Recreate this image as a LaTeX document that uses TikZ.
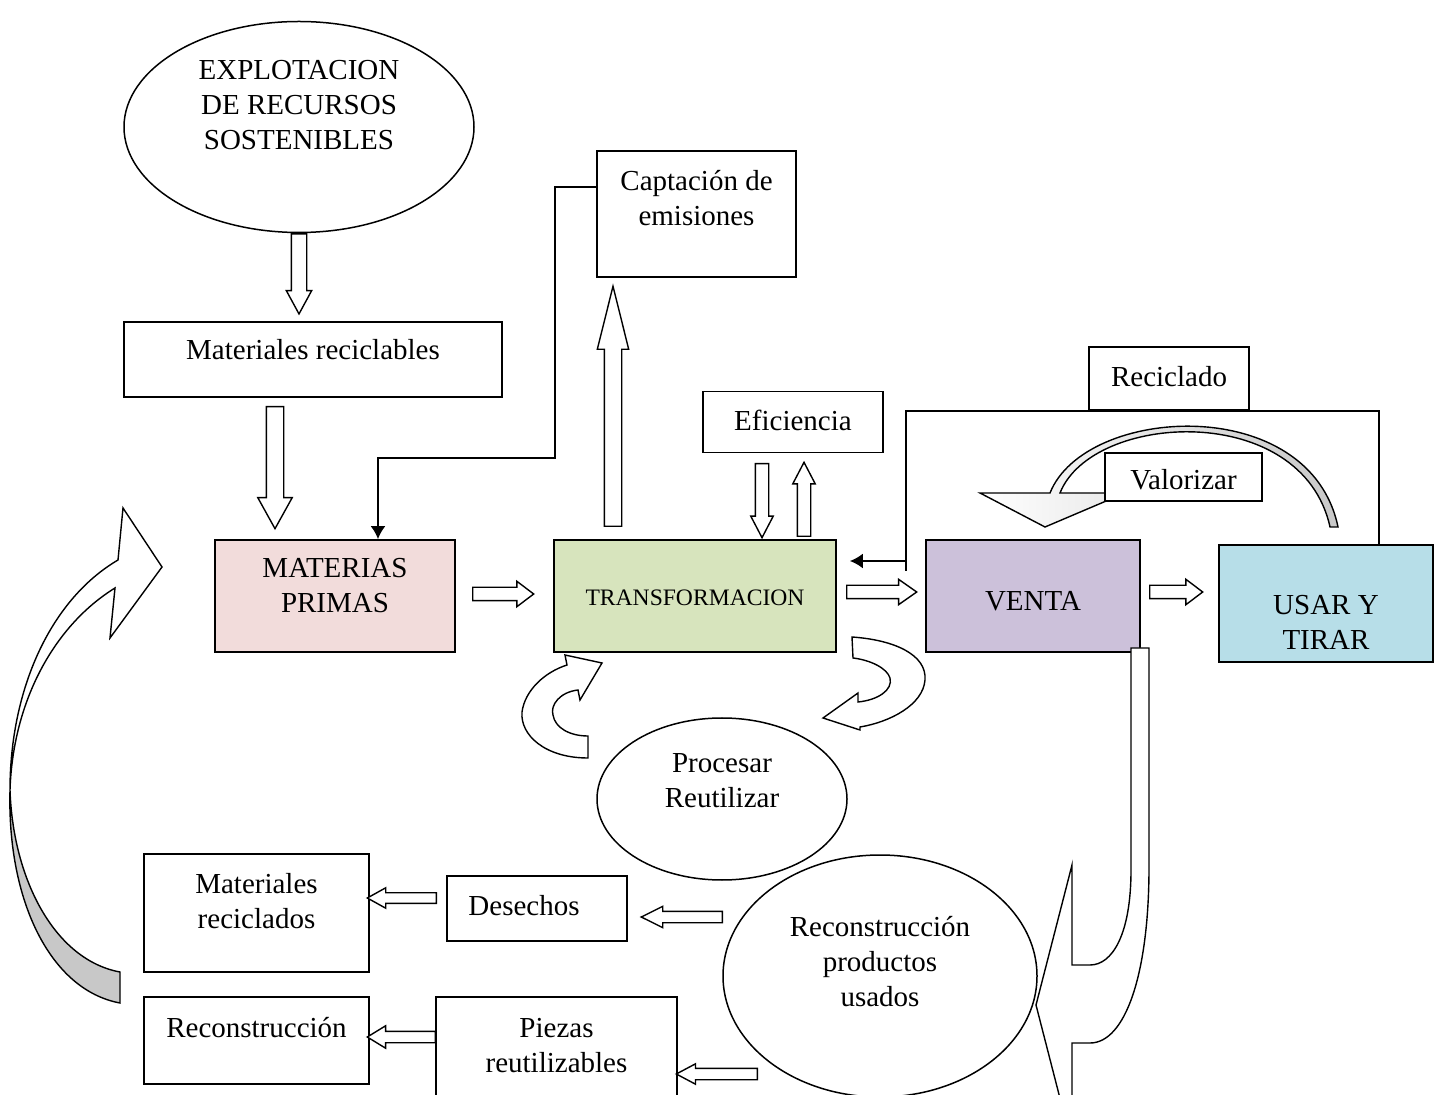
\documentclass[tikz,border=0pt]{standalone}
\usepackage{fontspec}
\setmainfont{Liberation Serif}
\usepackage{tikz}
\usetikzlibrary{arrows.meta,shapes.geometric,shapes.arrows}
\definecolor{rosa}{HTML}{F2DCDB}
\definecolor{verde}{HTML}{D7E4BD}
\definecolor{lila}{HTML}{CCC1DA}
\definecolor{celeste}{HTML}{B7DEE8}
\definecolor{gris}{HTML}{C8C8C8}

\begin{document}
\begin{tikzpicture}[x=0.5pt,y=-0.5pt,
  txt/.style={font=\fontsize{14.5}{17.5}\selectfont,align=center},
  caja/.style={txt,draw,line width=0.9pt,fill=white,inner sep=0pt,text depth=0pt},
  ovalo/.style={txt,draw,line width=0.75pt,ellipse,inner sep=0pt,text depth=0pt},
  flecha/.style={single arrow,draw,fill=white,line width=0.7pt,inner xsep=0pt,anchor=tail},
  curva/.style={draw,fill=white,line width=0.7pt},
  linea/.style={line width=0.9pt}]
\useasboundingbox (0,0) rectangle (1440,1095);
\clip (0,0) rectangle (1440,1095);

% valorizar
\draw[curva,left color=white,right color=gris] (980,493) -- (1045,527) -- (1125,493) -- (1060,493) .. controls (1092,412) and (1302,400) .. (1330,527) -- (1338,527) .. controls (1310,392) and (1085,405) .. (1050,493) -- cycle;

\node[ovalo,minimum width=175pt,minimum height=105.5pt,text height=22.5pt] (expl) at (299,127) {EXPLOTACION\\DE RECURSOS\\SOSTENIBLES};
\node[caja,minimum width=189pt,minimum height=37.5pt,text height=0.5pt] (mrec) at (313,359.5) {Materiales reciclables};
\node[caja,minimum width=99.5pt,minimum height=63pt,text height=12pt] (capt) at (696.5,214) {Captación de\\emisiones};
\node[caja,minimum width=90pt,minimum height=30.5pt,text height=9pt] (efic) at (793,422) {Eficiencia};
\node[caja,minimum width=80pt,minimum height=31.5pt,text height=8.5pt] (recl) at (1169,378.5) {Reciclado};
\node[caja,minimum width=78.5pt,minimum height=24pt,text height=13pt] (valo) at (1183.5,477) {Valorizar};
\node[caja,fill=rosa,minimum width=120pt,minimum height=56pt,text height=16.6pt] (mp) at (335,596) {MATERIAS\\PRIMAS};
\node[caja,fill=verde,minimum width=141pt,minimum height=56pt,font=\fontsize{11.8}{14}\selectfont,text height=9.8pt] (tr) at (695,596) {TRANSFORMACION};
\node[caja,fill=lila,minimum width=107pt,minimum height=56pt,text height=14.6pt] (ve) at (1033,596) {VENTA};
\node[caja,fill=celeste,minimum width=107pt,minimum height=58.5pt,text height=46pt] (us) at (1326,603.5) {USAR Y\\TIRAR};
\node[ovalo,minimum width=125pt,minimum height=81pt,text height=8pt] (proc) at (722,799) {Procesar\\Reutilizar};
\node[ovalo,minimum width=157pt,minimum height=121pt,text height=30pt] (rpu) at (880,976) {Reconstrucción\\productos\\usados};
\node[caja,minimum width=112.5pt,minimum height=59pt,text height=15pt] (mrc) at (256.5,913) {Materiales\\reciclados};
\node[caja,minimum width=90pt,minimum height=32.5pt,text height=6.5pt] (des) at (537,908.5) {Desechos\hspace*{13pt}};
\node[caja,minimum width=112.5pt,minimum height=43.5pt,text height=0pt,text depth=3.5pt] (rec) at (256.5,1040.5) {Reconstrucción};
\node[caja,minimum width=120.5pt,minimum height=59pt,text height=16pt] (pz) at (556.5,1056) {Piezas\\reutilizables};

\node[flecha,rotate=-90,minimum height=40pt,inner ysep=3.5pt,single arrow head extend=2.5pt,single arrow tip angle=57] (f1) at (expl.south) {};
\node[flecha,rotate=-90,minimum height=61pt,inner ysep=4pt,single arrow head extend=4.25pt,single arrow tip angle=58] (f2) at (275,406) {};
\node[flecha,rotate=90,minimum height=120pt,inner ysep=4pt,single arrow head extend=3.5pt,single arrow tip angle=28] (f3) at (613,527) {};
\node[flecha,rotate=-90,minimum height=37pt,inner ysep=3pt,single arrow head extend=2.25pt,single arrow tip angle=55] (f4) at (762,463) {};
\node[flecha,rotate=90,minimum height=37pt,inner ysep=3pt,single arrow head extend=2.25pt,single arrow tip angle=55] (f5) at (804,537) {};
\node[flecha,minimum height=30.5pt,inner ysep=3pt,single arrow head extend=3pt,single arrow tip angle=74] (f6) at (472,594) {};
\node[flecha,minimum height=35pt,inner ysep=3pt,single arrow head extend=3pt,single arrow tip angle=70] (f7) at (846,592) {};
\node[flecha,minimum height=26.5pt,inner ysep=3pt,single arrow head extend=3pt,single arrow tip angle=74] (f8) at (1149,592) {};
\node[flecha,rotate=180,minimum height=34.5pt,inner ysep=2.3pt,single arrow head extend=2.45pt,single arrow tip angle=58] (f9) at (437,898) {};
\node[flecha,rotate=180,minimum height=40.5pt,inner ysep=2.5pt,single arrow head extend=2.5pt,single arrow tip angle=53] (f10) at (723,917) {};
\node[flecha,rotate=180,minimum height=34pt,inner ysep=2.5pt,single arrow head extend=2.75pt,single arrow tip angle=63] (f11) at (436,1037) {};
\node[flecha,rotate=180,minimum height=40.5pt,inner ysep=2.5pt,single arrow head extend=2.25pt,single arrow tip angle=56] (f12) at (758,1074) {};

% flechas curvas
\draw[curva] (1131,648) -- (1131,870) .. controls (1131,935) and (1112,965) .. (1090,965) -- (1072,965) -- (1072,865) -- (1036,1005) -- (1072,1145) -- (1072,1043) -- (1090,1043) .. controls (1125,1043) and (1149,975) .. (1149,867) -- (1149,648) -- cycle;
\draw[curva] (588,758) .. controls (545,758) and (520,735) .. (522,712) .. controls (525,690) and (545,672) .. (567,665) -- (565,655) -- (602,663) -- (580,700) -- (578,690) .. controls (560,692) and (550,705) .. (553,715) .. controls (555,728) and (570,736) .. (588,736) -- cycle;
\draw[curva] (852,637) .. controls (895,640) and (927,655) .. (925,680) .. controls (923,705) and (890,722) .. (860,727) -- (860,730) -- (823,718) -- (858,693) -- (858,702) .. controls (878,700) and (893,690) .. (890,678) .. controls (887,668) and (870,660) .. (853,658) -- cycle;
\draw[curva] (118,560) .. controls (50,600) and (10,690) .. (10,790) .. controls (13,700) and (55,625) .. (115,588) -- (110,638) -- (162,567) -- (123,508) -- cycle;
\draw[curva,fill=gris] (10,790) .. controls (13,880) and (55,960) .. (120,972) -- (120,1003) .. controls (50,990) and (7,900) .. (10,790) -- cycle;

\coordinate (rjun) at (906,561);
\coordinate (rt) at ([xshift=6.5pt]tr.east);
\draw[linea,-{Latex[length=6.5pt,width=7.5pt]}] ([yshift=13.5pt]capt.west) -| (555,458) -| ([xshift=21.5pt]mp.north);
\draw[linea] ([xshift=26.5pt]us.north) |- (recl.south) -| (906,571);
\draw[linea,-{Latex[length=6.5pt,width=7.5pt]}] (rjun) -- (rt |- rjun);
\end{tikzpicture}
\end{document}
